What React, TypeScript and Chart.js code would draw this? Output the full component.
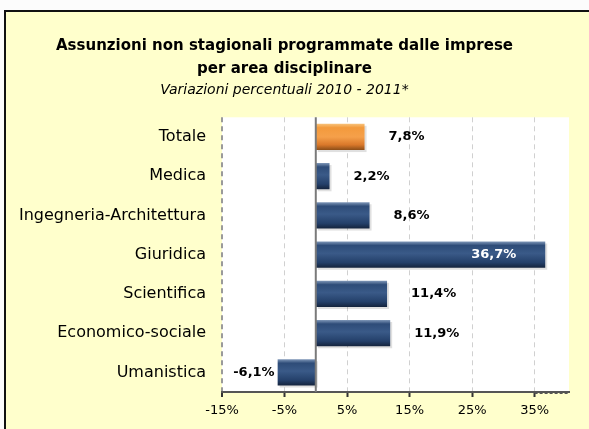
import React, { useEffect, useRef } from "react";
import { Chart, registerables } from "chart.js";

Chart.register(...registerables);

const categories = [
  "Totale",
  "Medica",
  "Ingegneria-Architettura",
  "Giuridica",
  "Scientifica",
  "Economico-sociale",
  "Umanistica",
];
const values = [7.8, 2.2, 8.6, 36.7, 11.4, 11.9, -6.1];
const highlightIndex = 0;
const xTicks = [-15, -5, 5, 15, 25, 35];
const titleLines = ["Assunzioni non stagionali programmate dalle imprese", "per area disciplinare"];
const subtitleText = "Variazioni percentuali 2010 - 2011*";

const FONT = "'DejaVu Sans', sans-serif";
const BAR_PCT = 0.67;

const fmt = (v: number) => v.toFixed(1).replace(".", ",") + "%";

const plotBg = {
  id: "plotBg",
  beforeDraw(chart: any) {
    const { ctx, chartArea: a } = chart;
    ctx.save();
    ctx.fillStyle = "#ffffff";
    ctx.fillRect(a.left, a.top, a.right - a.left, a.bottom - a.top);
    ctx.restore();
  },
};

const barFill = (c: any) => {
  const chart = c.chart;
  const a = chart.chartArea;
  const ys = chart.scales.y;
  const i = c.dataIndex;
  if (!a || !ys || i === undefined) return "#2e4c78";
  const center = ys.getPixelForValue(i);
  const half = ((a.bottom - a.top) / categories.length) * BAR_PCT / 2;
  const g = chart.ctx.createLinearGradient(0, center - half, 0, center + half);
  if (i === highlightIndex) {
    g.addColorStop(0, "#f7c27a");
    g.addColorStop(0.15, "#f39a3c");
    g.addColorStop(0.5, "#f5a04a");
    g.addColorStop(0.8, "#d9782a");
    g.addColorStop(1, "#8a4d18");
  } else {
    g.addColorStop(0, "#7f97b8");
    g.addColorStop(0.15, "#2e4c78");
    g.addColorStop(0.45, "#3a5a88");
    g.addColorStop(0.8, "#24406a");
    g.addColorStop(1, "#14233c");
  }
  return g;
};

const barStyle = {
  id: "barStyle",
  beforeDatasetsDraw(chart: any) {
    const { ctx } = chart;
    const meta = chart.getDatasetMeta(0);
    ctx.save();
    ctx.fillStyle = "rgba(0,0,0,0.12)";
    meta.data.forEach((el: any) => {
      const l = Math.min(el.x, el.base);
      const r = Math.max(el.x, el.base);
      ctx.fillRect(l + 2, el.y - el.height / 2 + 2, r - l, el.height);
    });
    ctx.restore();
  },
  afterDatasetsDraw(chart: any) {
    const { ctx, chartArea: a } = chart;
    const x = chart.scales.x;
    const zx = x.getPixelForValue(0);
    ctx.save();
    ctx.strokeStyle = "#7a7a7a";
    ctx.lineWidth = 2;
    ctx.beginPath();
    ctx.moveTo(zx, a.top);
    ctx.lineTo(zx, a.bottom);
    ctx.stroke();
    ctx.setLineDash([3, 2]);
    ctx.strokeStyle = "#555";
    ctx.lineWidth = 2;
    ctx.beginPath();
    ctx.moveTo(x.getPixelForValue(35), a.bottom + 1);
    ctx.lineTo(a.right, a.bottom + 1);
    ctx.stroke();
    ctx.restore();

    const meta = chart.getDatasetMeta(0);
    ctx.save();
    ctx.font = `bold 13px ${FONT}`;
    ctx.textBaseline = "middle";
    meta.data.forEach((el: any, i: number) => {
      const v = values[i];
      const t = fmt(v);
      const w = ctx.measureText(t).width;
      if (v < 0) {
        ctx.textAlign = "right";
        ctx.fillStyle = "#000";
        ctx.fillText(t, el.x - 3, el.y);
      } else if (el.x + 24 + w > a.right) {
        ctx.textAlign = "right";
        ctx.fillStyle = "#ffffff";
        ctx.fillText(t, el.x - 29, el.y);
      } else {
        ctx.textAlign = "left";
        ctx.fillStyle = "#000";
        ctx.fillText(t, el.x + 24, el.y);
      }
    });
    ctx.restore();
  },
};

export default function App() {
  const ref = useRef<HTMLCanvasElement | null>(null);
  useEffect(() => {
    if (!ref.current) return;
    const chart = new Chart(ref.current, {
      type: "bar",
      data: {
        labels: categories,
        datasets: [
          {
            data: values,
            backgroundColor: barFill,
            borderWidth: 0,
            barPercentage: BAR_PCT,
            categoryPercentage: 1,
          },
        ],
      },
      plugins: [plotBg, barStyle],
      options: {
        indexAxis: "y",
        animation: false,
        responsive: false,
        maintainAspectRatio: false,
        layout: { padding: { left: 0, right: 20, top: 0, bottom: 0 } },
        plugins: {
          legend: { display: false },
          tooltip: { enabled: false },
          title: {
            display: true,
            text: titleLines,
            color: "#000",
            font: { family: FONT, size: 15, weight: "bold", lineHeight: 1.55 },
            padding: { top: 34, bottom: 0 },
          },
          subtitle: {
            display: true,
            text: subtitleText,
            color: "#000",
            font: { family: FONT, size: 14, style: "italic", lineHeight: 1.2 },
            padding: { top: 1, bottom: 19 },
          },
        },
        scales: {
          x: {
            type: "linear",
            min: -15,
            max: 40.5,
            afterBuildTicks: (scale: any) => {
              scale.ticks = xTicks.map((v) => ({ value: v }));
            },
            afterFit: (scale: any) => {
              scale.height = 37;
            },
            grid: {
              color: (c: any) => (c.tick && c.tick.value === -15 ? "#9a9a9a" : "#d0d0d0"),
              lineWidth: (c: any) => (c.tick && c.tick.value === -15 ? 2 : 1),
              drawTicks: true,
              tickLength: 5,
              tickColor: "#333",
              tickWidth: 2,
            },
            border: { display: true, color: "#555", width: 2, dash: [5, 4] },
            ticks: {
              color: "#000",
              padding: 6,
              font: { family: FONT, size: 13 },
              callback: (v: any) => `${v}%`,
            },
          },
          y: {
            afterFit: (scale: any) => {
              scale.width = 222;
            },
            grid: { display: false },
            border: { display: false },
            ticks: {
              color: "#000",
              padding: 8,
              font: { family: FONT, size: 16 },
            },
          },
        },
      },
    });
    return () => chart.destroy();
  }, []);

  return (
    <div style={{ position: "fixed", left: 0, top: 0, width: 589, height: 429, background: "#fcfcfc", overflow: "hidden" }}>
      <div
        style={{
          position: "absolute",
          left: 4,
          top: 10,
          width: 620,
          height: 460,
          background: "#ffffcc",
          border: "2px solid #111",
        }}
      />
      <canvas ref={ref} width={589} height={429} style={{ position: "absolute", left: 0, top: 0 }} />
    </div>
  );
}
